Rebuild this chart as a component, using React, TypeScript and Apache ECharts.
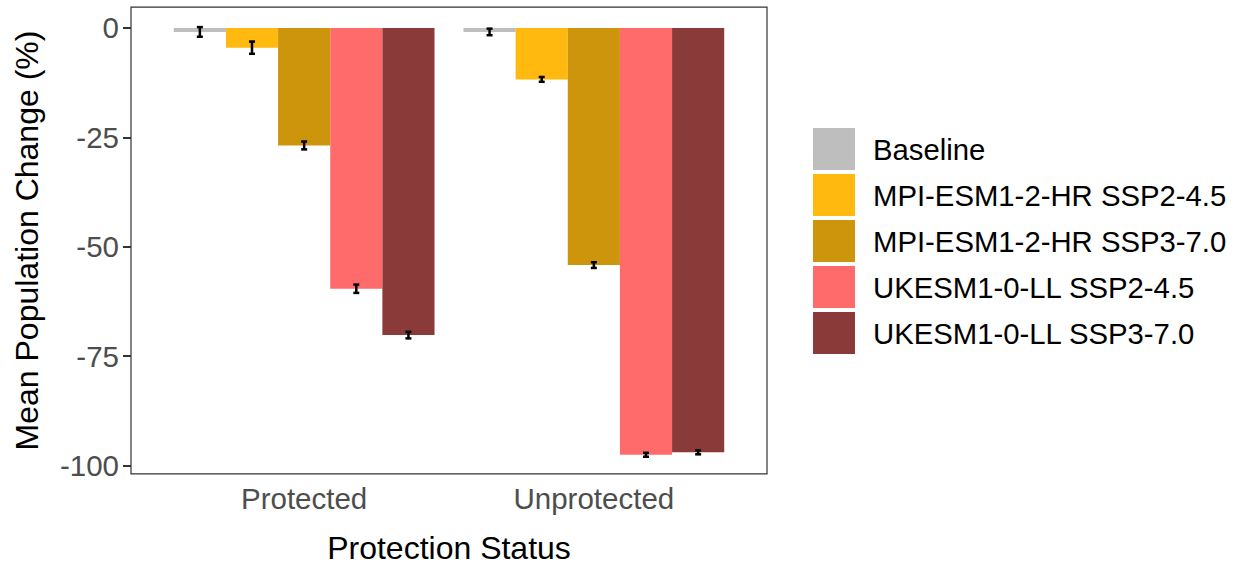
import React, { useEffect, useRef } from "react";
import * as echarts from "echarts";

const categories = ["Protected", "Unprotected"];
const scenarios = [
  "Baseline",
  "MPI-ESM1-2-HR SSP2-4.5",
  "MPI-ESM1-2-HR SSP3-7.0",
  "UKESM1-0-LL SSP2-4.5",
  "UKESM1-0-LL SSP3-7.0",
];
const colors = ["#BEBEBE", "#FFB90F", "#CD950C", "#FF6A6A", "#8B3A3A"];

// mean change per scenario, [Protected, Unprotected]
const baseline = [-0.9, -0.9];
const mpi245 = [-4.5, -11.75];
const mpi370 = [-26.85, -54.2];
const uk245 = [-59.6, -97.55];
const uk370 = [-70.2, -97.0];

// half-width of the error bars, same order
const baselineErr = [1.1, 0.75];
const mpi245Err = [1.4, 0.55];
const mpi370Err = [0.9, 0.65];
const uk245Err = [0.95, 0.45];
const uk370Err = [0.75, 0.45];

const yTicks = [0, -25, -50, -75, -100];

const means = [baseline, mpi245, mpi370, uk245, uk370];
const errs = [baselineErr, mpi245Err, mpi370Err, uk245Err, uk370Err];

const FONT = "'Liberation Sans', Arial, Helvetica, sans-serif";
const BAR_FRAC = 0.18; // each bar's share of a category band (5 bars = 0.9)

export default function App() {
  const ref = useRef<HTMLDivElement>(null);

  useEffect(() => {
    if (!ref.current) return;
    const chart = echarts.init(ref.current, undefined, { renderer: "svg" });

    const errData: number[][] = [];
    means.forEach((m, s) => {
      m.forEach((v, c) => errData.push([c, v, s, errs[s][c]]));
    });

    const panel = { left: 131, top: 7.2, width: 636, height: 466.6 };
    const band = 289.7;
    const gridLeft = panel.left + panel.width / 2 - band;

    const option: any = {
      animation: false,
      backgroundColor: "#ffffff",
      textStyle: { fontFamily: FONT },
      grid: {
        left: gridLeft,
        top: panel.top,
        width: band * 2,
        height: panel.height,
        containLabel: false,
        outerBoundsMode: "none",
      },
      xAxis: {
        type: "category",
        data: categories,
        axisLine: { show: false },
        axisTick: {
          show: true,
          alignWithLabel: true,
          length: 8,
          lineStyle: { color: "#333333", width: 2 },
        },
        axisLabel: {
          color: "#4D4D4D",
          fontSize: 29.5,
          fontFamily: FONT,
          margin: 10,
        },
        name: "Protection Status",
        nameLocation: "middle",
        nameGap: 58,
        nameTextStyle: { color: "#000000", fontSize: 32, fontFamily: FONT },
        splitLine: { show: false },
      },
      yAxis: {
        type: "value",
        min: -101.9,
        max: 4.75,
        offset: gridLeft - panel.left,
        axisLine: { show: false },
        axisTick: {
          show: true,
          length: 8,
          customValues: yTicks,
          lineStyle: { color: "#333333", width: 2 },
        },
        axisLabel: {
          color: "#4D4D4D",
          fontSize: 29.5,
          fontFamily: FONT,
          margin: 12,
          customValues: yTicks,
        },
        splitLine: { show: false },
        name: "Mean Population Change (%)",
        nameLocation: "middle",
        nameRotate: 90,
        nameGap: 88,
        nameTextStyle: { color: "#000000", fontSize: 32, fontFamily: FONT },
      },
      legend: {
        orient: "vertical",
        left: 813,
        top: 128,
        itemWidth: 42,
        itemHeight: 42,
        itemGap: 4,
        padding: 0,
        icon: "rect",
        data: scenarios,
        textStyle: {
          color: "#000000",
          fontSize: 29.3,
          fontFamily: FONT,
          padding: [0, 0, 0, 13],
        },
      },
      series: [
        ...scenarios.map((name, s) => ({
          type: "bar",
          name,
          data: means[s],
          barWidth: `${BAR_FRAC * 100}%`,
          barGap: "0%",
          itemStyle: { color: colors[s] },
          z: 2,
        })),
        {
          type: "custom",
          name: "error",
          data: errData,
          encode: { x: 0, y: 1 },
          z: 5,
          renderItem: (params: any, api: any) => {
            const c = api.value(0);
            const m = api.value(1);
            const s = api.value(2);
            const e = api.value(3);
            const bw = api.size([1, 0])[0];
            const x = api.coord([c, 0])[0] + (s - 2) * bw * BAR_FRAC;
            const yTop = api.coord([c, m + e])[1];
            const yBot = api.coord([c, m - e])[1];
            const hw = 3;
            const style = { stroke: "#000000", lineWidth: 2.5 };
            return {
              type: "group",
              children: [
                { type: "line", shape: { x1: x, y1: yTop, x2: x, y2: yBot }, style },
                { type: "line", shape: { x1: x - hw, y1: yTop, x2: x + hw, y2: yTop }, style },
                { type: "line", shape: { x1: x - hw, y1: yBot, x2: x + hw, y2: yBot }, style },
              ],
            };
          },
        },
      ],
      graphic: [
        {
          type: "rect",
          z: 10,
          silent: true,
          shape: { x: panel.left, y: panel.top, width: panel.width, height: panel.height },
          style: { fill: "none", stroke: "#333333", lineWidth: 1.2 },
        },
      ],
    };

    chart.setOption(option);
    return () => chart.dispose();
  }, []);

  return <div ref={ref} style={{ width: 1234, height: 565, position: "absolute", left: 0, top: 0 }} />;
}
